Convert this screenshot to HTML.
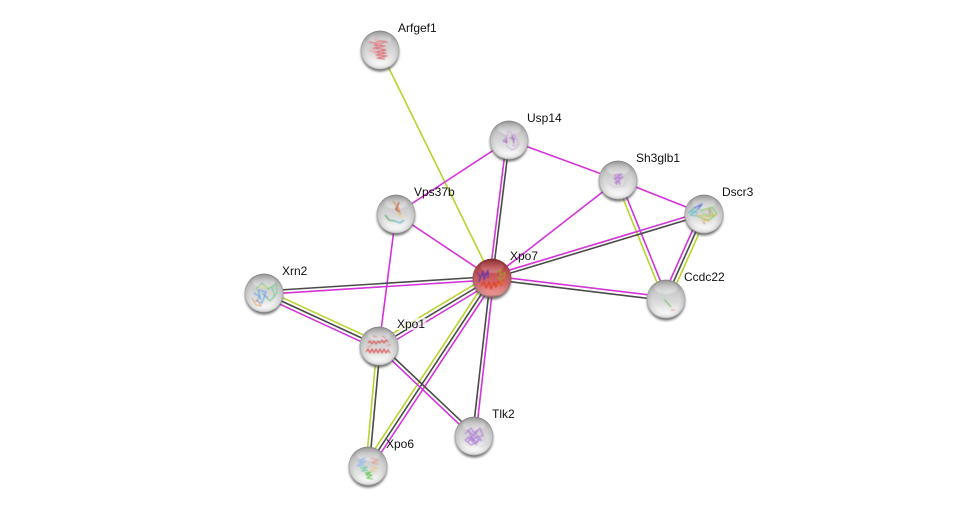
<!DOCTYPE html>
<html><head><meta charset="utf-8"><style>
html,body{margin:0;padding:0;background:#fff}
svg{display:block}
text{font-family:"Liberation Sans",sans-serif;font-size:12px;fill:#111}
.m{stroke:#d433da}.d{stroke:#4a4a4a}.g{stroke:#b8d42c}
line{stroke-width:1.6;fill:none}
.s path{fill:none;stroke-width:1.1;stroke-linejoin:round}
</style></head><body>
<svg width="975" height="511" viewBox="0 0 975 511" xmlns="http://www.w3.org/2000/svg">
<defs>
<linearGradient id="b" x1="0" y1="0" x2="0" y2="1"><stop offset="0" stop-color="#9c9c9c"/><stop offset=".3" stop-color="#c8c8c8"/><stop offset=".62" stop-color="#dedede"/><stop offset=".9" stop-color="#fcfcfc"/><stop offset="1" stop-color="#ececec"/></linearGradient>
<linearGradient id="r" x1="0" y1="0" x2="0" y2="1"><stop offset="0" stop-color="#8a1f22"/><stop offset=".3" stop-color="#c04a50"/><stop offset=".65" stop-color="#d8686a"/><stop offset=".92" stop-color="#f09a96"/><stop offset="1" stop-color="#c06a6a"/></linearGradient>
<radialGradient id="e" cx="50%" cy="50%" r="50%"><stop offset=".7" stop-color="#555" stop-opacity="0"/><stop offset=".92" stop-color="#555" stop-opacity=".14"/><stop offset="1" stop-color="#444" stop-opacity=".38"/></radialGradient>
<linearGradient id="h" x1="0" y1="0" x2="0" y2="1"><stop offset="0" stop-color="#fff" stop-opacity=".08"/><stop offset="1" stop-color="#fff" stop-opacity=".45"/></linearGradient>
<filter id="bl" x="-30%" y="-30%" width="160%" height="160%"><feGaussianBlur stdDeviation="1.2"/></filter>
<filter id="gb" x="-30%" y="-50%" width="160%" height="200%"><feGaussianBlur stdDeviation=".9"/></filter>
<filter id="sf" x="-10%" y="-10%" width="120%" height="120%"><feGaussianBlur stdDeviation=".45"/></filter>
<g id="ball"><circle cy="2.6" r="19" fill="#4a4a4a" opacity=".8" filter="url(#bl)"/><circle r="19.4" fill="url(#b)"/><circle r="19.4" fill="url(#e)"/></g>
<g id="gloss"><ellipse cy="-11.5" rx="11.5" ry="6.5" fill="url(#h)" filter="url(#gb)"/></g>
</defs>

<line class="g" x1="380" y1="50" x2="492" y2="278"/>
<line class="m" x1="509" y1="140" x2="396" y2="214"/>
<line class="m" x1="509" y1="140" x2="618" y2="180"/>
<line class="m" x1="618" y1="180" x2="492" y2="278"/>
<line class="m" x1="618" y1="180" x2="704" y2="214"/>
<line class="m" x1="396" y1="214" x2="492" y2="278"/>
<line class="m" x1="396" y1="214" x2="379" y2="346"/>

<line class="m" x1="506.5" y1="140" x2="489.5" y2="278"/>
<line class="d" x1="509.5" y1="140" x2="492.5" y2="278"/>
<line class="g" x1="616" y1="181" x2="664" y2="300"/>
<line class="m" x1="619.5" y1="179.5" x2="667.5" y2="298.5"/>
<line class="m" x1="700.5" y1="212.5" x2="662.5" y2="297.5"/>
<line class="d" x1="703.8" y1="214" x2="665.8" y2="299"/>
<line class="g" x1="707" y1="215.5" x2="669" y2="300.5"/>
<line class="m" x1="703.5" y1="211.5" x2="491.5" y2="275.5"/>
<line class="d" x1="704.5" y1="214.5" x2="492.5" y2="278.5"/>
<line class="m" x1="666.3" y1="297" x2="492.3" y2="276"/>
<line class="d" x1="665.8" y1="300.5" x2="491.8" y2="279.5"/>
<line class="d" x1="264" y1="291" x2="492" y2="276.5"/>
<line class="m" x1="264.2" y1="294.3" x2="492.2" y2="279.8"/>
<line class="g" x1="265.5" y1="289.8" x2="380.5" y2="342.8"/>
<line class="d" x1="264" y1="293" x2="379" y2="346"/>
<line class="m" x1="262.5" y1="296.2" x2="377.5" y2="349.2"/>
<line class="g" x1="377" y1="343" x2="490" y2="275"/>
<line class="d" x1="379" y1="346" x2="492" y2="278"/>
<line class="m" x1="381" y1="349" x2="494" y2="281"/>
<line class="g" x1="365" y1="464" x2="489" y2="276"/>
<line class="d" x1="368" y1="466" x2="492" y2="278"/>
<line class="m" x1="371" y1="468" x2="495" y2="280"/>
<line class="d" x1="472.5" y1="436" x2="490.5" y2="278"/>
<line class="m" x1="475.8" y1="436.3" x2="493.8" y2="278.3"/>
<line class="g" x1="377" y1="346" x2="366" y2="466"/>
<line class="d" x1="380.3" y1="346.3" x2="369.3" y2="466.3"/>
<line class="d" x1="380.3" y1="344.6" x2="475.3" y2="434.6"/>
<line class="m" x1="377.9" y1="347.2" x2="472.9" y2="437.2"/>

<rect x="396" y="318" width="30" height="12" fill="#fff" opacity=".7"/>

<g class="s" transform="translate(380 50)"><use href="#ball"/><use href="#gloss"/><g filter="url(#sf)">
<path stroke="#d8636a" stroke-width="1.5" d="M-11-8-5-7 0-9 8-8M7-8-6-5 5-4-6-2 6 0-5 2 6 3-4 5 7 6-3 8 5 9"/><path stroke="#e9a0a5" d="M-5-12 0-2 2 8M-9-3-2 4M-11 0-5 3"/></g></g>

<g class="s" transform="translate(509 140)"><use href="#ball"/><use href="#gloss"/><g filter="url(#sf)">
<path stroke="#c9b4d4" d="M-10-8-2-3-6 2 0-9 6-3 4 6 10 5 5-7M-3 5 3 10 9 7"/><path stroke="#a868c4" stroke-width="2.4" d="M-6 0-2 3M-3-2-2 3M3-5 5 3M1-2 6-1"/></g></g>

<g class="s" transform="translate(618 180)"><use href="#ball"/><use href="#gloss"/><g filter="url(#sf)">
<path stroke="#b880d4" stroke-width="1.5" d="M-4-5 4-6-4-1 5-3-3 3 2 2M0-6 2 5M-3-4-1 5"/><path stroke="#d2cada" d="M-9 3-4 7 6 6 9-2"/></g></g>

<g class="s" transform="translate(704 214)"><use href="#ball"/><use href="#gloss"/><g filter="url(#sf)">
<path stroke="#62bcc8" stroke-width="1.3" d="M-16-1-8-7-2-9-8-3-14 1-6 2M-14-3-6-1"/><path stroke="#6a78d0" stroke-width="1.3" d="M-10-6-2-10-6-5"/><path stroke="#8ccf70" stroke-width="1.3" d="M-4-3 8-7 13 0 5 6-6 3M6-5 10 3M-2 0 9 2"/><path stroke="#d8c060" stroke-width="1.4" d="M-8 1 4 3 13 0M0 5 5 7-3 6"/><path stroke="#d98a80" d="M5-6 6 1M-1 8 1 10"/></g></g>

<g class="s" transform="translate(666 299)"><use href="#ball"/><use href="#gloss"/><g filter="url(#sf)">
<path stroke="#b5e0d0" d="M-4-9-2 0"/><path stroke="#80bd78" stroke-width="1.4" d="M-2 0 5 8"/><path stroke="#e59a8e" stroke-width="1.6" d="M5 11 9 11"/></g></g>

<g class="s" transform="translate(396 214)"><use href="#ball"/><use href="#gloss"/><g filter="url(#sf)">
<path stroke="#cf9a50" stroke-width="2.4" d="M-3-13 3-5-1-6 5 0"/><path stroke="#c85a5a" stroke-width="2" d="M3-12 0-4 4-3"/><path stroke="#e4d060" stroke-width="1.8" d="M1-1 6 3"/><path stroke="#4fa878" stroke-width="3.6" d="M-11 1-7 6-1 7"/><path stroke="#52b8c8" stroke-width="2.8" d="M-1 7 4 9 8 6"/></g></g>

<g class="s" transform="translate(264 293)"><use href="#ball"/><use href="#gloss"/><g filter="url(#sf)">
<path stroke="#80cc98" stroke-width="1.4" d="M-8-4-2-10 4-4 12-9 13 0 6 8 0 2M8-6 11 4"/><path stroke="#6ea8e0" stroke-width="1.4" d="M-10 0-4 4-8 8-2 10 2-1-6-3-3 7M-2 0 4 5"/><path stroke="#e0a868" stroke-width="1.4" d="M-12 5-8 12-3 13-7 6"/><path stroke="#d8d890" stroke-width="1.4" d="M-6-8 0-5 5-8"/></g></g>

<g class="s" transform="translate(379 346)"><use href="#ball"/><use href="#gloss"/><g filter="url(#sf)">
<path stroke="#d94f4e" stroke-width="2.2" d="M-11-3-9-5-7-2-5-5-3-2-1-5 1-3 3-6 5-3 7-6 9-4M-13 6-11 3-9 7-7 3-5 7-3 3-1 7 1 3 3 7 5 3 7 7 9 4 11 7"/><path stroke="#e8908c" stroke-width="1.4" d="M-6-10-2-9M3-10 7-8M8 0 12-2M-12 1-8 0"/></g></g>

<g class="s" transform="translate(368 466)"><use href="#ball"/><use href="#gloss"/><g filter="url(#sf)">
<path stroke="#9cbcec" stroke-width="2" d="M-11-5-3-8-9-3-2-5-11 0-4-1"/><path stroke="#e8a096" stroke-width="2" d="M3-8 10-6 4-3 10-2"/><path stroke="#e8cc84" stroke-width="2" d="M3 0 9 2 3 4 8 6"/><path stroke="#62cca0" stroke-width="2" d="M-8 2-1 1-6 5 0 4"/><path stroke="#68c454" stroke-width="2.2" d="M-3 7 3 6-2 9 4 9-1 12 5 13"/></g></g>

<g class="s" transform="translate(474 436)"><use href="#ball"/><use href="#gloss"/><g filter="url(#sf)">
<path stroke="#b484d8" stroke-width="1.3" d="M-9-2-3-8 1-2 6-8 9 0 3 1-2 4 4 6-3 9-9 4-3 0 2 6 7 3M-5-5 0 8M3-6-6 6M-7-6 5 4M-2-6 8 5M-7 1 3 9"/><path stroke="#d0d0d8" d="M9 2 13 8 6 11"/></g></g>

<g class="s" transform="translate(492 278)"><circle cy="2.6" r="19" fill="#4a4a4a" opacity=".8" filter="url(#bl)"/><circle r="19.4" fill="url(#r)"/><circle r="19.4" fill="url(#e)"/><ellipse cy="-11.5" rx="11.5" ry="6.5" fill="url(#h)" opacity=".6" filter="url(#gb)"/><g filter="url(#sf)">
<path stroke="#6438ac" stroke-width="2.2" d="M-15-6-12-1-13 4-9-7-8 2-4-8-4 0M-10-3-3-5"/><path stroke="#a89a30" stroke-width="2.2" d="M4-5 9-8 8-2 13-6 12 0 7 0M5-1 10 3"/><path stroke="#de3a1c" stroke-width="2.2" d="M-11 8-8 4-6 10-3 4-1 11 2 4 4 9 6 3 9 7 11 2"/><path stroke="#e07820" stroke-width="1.5" d="M5 7 12 4"/></g></g>

<text x="398" y="32">Arfgef1</text>
<text x="527" y="122">Usp14</text>
<text x="636" y="162">Sh3glb1</text>
<text x="722" y="196">Dscr3</text>
<text x="684" y="281">Ccdc22</text>
<text x="414" y="196">Vps37b</text>
<text x="510" y="260">Xpo7</text>
<text x="282" y="275">Xrn2</text>
<text x="397" y="328">Xpo1</text>
<text x="492" y="418">Tlk2</text>
<text x="386" y="448">Xpo6</text>
</svg>
</body></html>
